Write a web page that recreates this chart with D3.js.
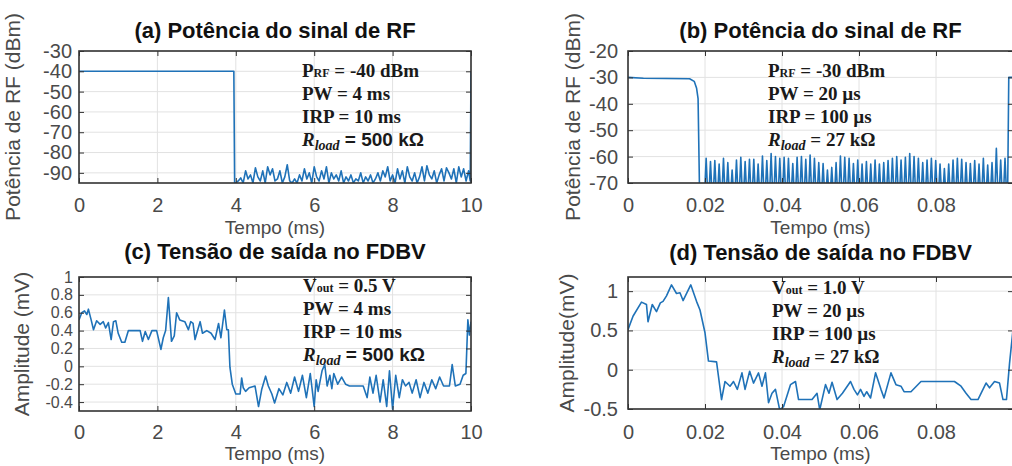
<!DOCTYPE html>
<html>
<head>
<meta charset="utf-8">
<script src="https://cdn.jsdelivr.net/npm/d3@7"></script>
<style>
  body { margin: 0; background: #fff; }
  svg { display: block; }
</style>
</head>
<body>
<svg id="fig" width="1012" height="466"></svg>
<script>
// ---------------- data ----------------
// (a) RF power, PW = 4 ms, IRP = 10 ms  (time in ms, power in dBm)
const rfA_pulse = [[0, -40], [3.95, -40], [3.97, -95]];
const rfA_noiseStart = 4.0;
const rfA_noiseStep = 0.0625;
const rfA_noise = [-95,-94,-92.5,-95,-89,-93,-91,-95,-87.5,-92,
  -94,-89,-95,-87,-91,-88,-94,-93,-89,-95,
  -92,-86,-94,-95,-93,-95,-91,-94,-88,-93,
  -90,-95,-87,-92,-94,-89,-93,-87,-95,-90,
  -93,-91,-94,-89,-95,-92,-94,-91,-95,-93,
  -94,-90,-95,-92,-94,-91,-95,-93,-90,-94,
  -89,-92,-87,-94,-91,-95,-88,-93,-89,-95,
  -87,-92,-94,-90,-95,-92,-87,-94,-86.5,-91,
  -93,-89,-95,-91,-88,-94,-87.5,-90,-93,-88,
  -95,-87,-92,-88,-94,-89];
const rfA_tail = [[9.98, -94], [10, -40]];

// (b) RF power, PW = 20 us, IRP = 100 us
const rfB_pulse = [[0, -30], [0.004, -30.3], [0.010, -30.4], [0.016, -30.5],
  [0.0172, -31.5], [0.0178, -34], [0.0182, -38], [0.0186, -75]];
const rfB_floor = -75;
const rfB_spikeStart = 0.0203;
const rfB_spikeStep = 0.001125;
const rfB_spikeHalfWidth = 0.00042;
const rfB_spikes = [-60.6,-61.9,-61.5,-62.8,-60.6,-62.3,-65.1,-61.3,-60.3,-61.9,
  -61.0,-61.0,-62.8,-59.8,-61.5,-58.8,-60.0,-60.6,-60.3,-60.6,
  -62.6,-60.3,-60.0,-61.0,-59.4,-60.6,-62.3,-62.6,-65.1,-64.1,
  -62.3,-59.8,-60.3,-60.6,-62.6,-61.3,-62.8,-61.9,-62.8,-61.3,
  -62.8,-62.3,-61.5,-60.6,-60.0,-61.3,-60.3,-58.8,-60.0,-60.6,
  -62.3,-61.3,-60.6,-61.5,-62.8,-64.5,-62.8,-61.3,-60.6,-61.0,
  -62.3,-62.6,-61.5,-62.8,-60.6,-63.2,-62.3,-56.9,-61.3,-60.6];
const rfB_tail = [[0.0986, -75], [0.0989, -30], [0.1, -30]];

// (c) detector output, PW = 4 ms (time in ms, amplitude in mV)
const voutC = [[0,0.52],[0.07,0.60],[0.14,0.62],[0.20,0.58],[0.24,0.64],[0.31,0.52],[0.37,0.41],
  [0.45,0.51],[0.54,0.47],[0.62,0.50],[0.68,0.43],[0.75,0.49],[0.82,0.30],[0.88,0.50],[0.94,0.51],
  [1.00,0.37],[1.09,0.27],[1.17,0.27],[1.26,0.40],[1.56,0.40],[1.62,0.28],[1.69,0.39],[1.77,0.30],
  [1.86,0.40],[1.98,0.40],[2.09,0.19],[2.15,0.32],[2.21,0.40],[2.28,0.77],[2.36,0.28],[2.43,0.34],
  [2.49,0.60],[2.57,0.52],[2.70,0.50],[2.79,0.41],[2.85,0.50],[2.91,0.48],[2.96,0.30],[3.03,0.41],
  [3.09,0.50],[3.15,0.37],[3.26,0.40],[3.37,0.37],[3.47,0.30],[3.56,0.48],[3.62,0.32],[3.71,0.63],
  [3.77,0.41],[3.81,0.41],[3.85,-0.01],[3.91,-0.20],[4.00,-0.31],[4.11,-0.31],[4.15,-0.13],
  [4.19,-0.24],[4.25,-0.28],[4.34,-0.24],[4.49,-0.22],[4.58,-0.45],[4.66,-0.26],[4.76,-0.11],
  [4.83,-0.22],[4.92,-0.31],[4.99,-0.41],[5.10,-0.25],[5.20,-0.32],[5.30,-0.18],[5.40,-0.30],
  [5.50,-0.12],[5.60,-0.28],[5.70,-0.10],[5.80,-0.35],[5.90,-0.08],[6.00,-0.45],[6.05,-0.15],
  [6.10,-0.28],[6.20,-0.05],[6.27,0.02],[6.33,-0.22],[6.40,-0.10],[6.45,-0.25],[6.50,-0.08],
  [6.60,-0.20],[6.70,-0.12],[6.80,-0.20],[6.90,-0.22],[7.25,-0.22],[7.35,-0.35],[7.42,-0.12],
  [7.50,-0.30],[7.58,-0.10],[7.68,-0.40],[7.76,-0.15],[7.85,-0.45],[7.92,-0.05],[8.00,-0.48],
  [8.08,-0.10],[8.17,-0.35],[8.25,-0.15],[8.33,-0.22],[8.42,-0.18],[8.50,-0.30],[8.60,-0.15],
  [8.70,-0.35],[8.80,-0.18],[8.90,-0.30],[9.00,-0.15],[9.10,-0.25],[9.20,-0.12],[9.30,-0.22],
  [9.45,-0.22],[9.52,0.02],[9.60,-0.22],[9.72,-0.20],[9.80,-0.10],[9.87,-0.08],[9.92,0.52],
  [9.96,0.35],[10.00,0.50]];

// (d) detector output, PW = 20 us
const voutD = [[0,0.51],[0.0013,0.68],[0.0035,0.86],[0.0048,0.83],[0.0052,0.61],[0.0063,0.83],
  [0.0074,0.74],[0.0084,0.85],[0.0091,0.87],[0.0100,0.94],[0.0113,1.08],[0.0126,0.97],[0.0135,0.98],
  [0.0143,0.88],[0.0163,1.08],[0.0178,0.87],[0.0187,0.76],[0.0200,0.47],[0.0209,0.11],[0.0230,0.10],
  [0.0243,-0.38],[0.0252,-0.15],[0.0265,-0.21],[0.0274,-0.15],[0.0284,-0.25],[0.0296,-0.04],
  [0.0304,-0.25],[0.0316,-0.02],[0.0326,-0.17],[0.0339,-0.04],[0.0348,-0.21],[0.0357,-0.04],
  [0.0365,-0.42],[0.0374,-0.30],[0.0383,-0.25],[0.0394,-0.51],[0.0404,-0.47],[0.0422,-0.19],
  [0.0435,-0.15],[0.0443,-0.38],[0.0465,-0.38],[0.0478,-0.38],[0.0491,-0.30],[0.0498,-0.51],
  [0.0513,-0.19],[0.0522,-0.30],[0.0530,-0.16],[0.0543,-0.38],[0.0557,-0.30],[0.0578,-0.15],
  [0.0587,-0.25],[0.0596,-0.32],[0.0604,-0.25],[0.0613,-0.34],[0.0620,-0.28],[0.0630,-0.36],
  [0.0643,-0.04],[0.0657,-0.25],[0.0665,-0.36],[0.0683,-0.04],[0.0696,-0.19],[0.0709,-0.21],
  [0.0717,-0.28],[0.0735,-0.28],[0.0761,-0.15],[0.0848,-0.15],[0.0865,-0.21],[0.0878,-0.30],
  [0.0891,-0.38],[0.0909,-0.38],[0.0930,-0.17],[0.0939,-0.23],[0.0952,-0.15],[0.0965,-0.17],
  [0.0974,-0.38],[0.0983,-0.38],[0.0991,0.08],[0.1000,0.51]];

// axis ticks
const ticksMs = [0, 2, 4, 6, 8, 10];
const ticksUs = [0, 0.02, 0.04, 0.06, 0.08];
const ticksDbmA = [-90, -80, -70, -60, -50, -40, -30];
const ticksDbmB = [-70, -60, -50, -40, -30, -20];
const ticksMvC = [-0.4, -0.2, 0, 0.2, 0.4, 0.6, 0.8, 1];
const ticksMvD = [-0.5, 0, 0.5, 1];

// ---------------- assemble traces ----------------
const traceA = rfA_pulse
  .concat(rfA_noise.map((v, i) => [rfA_noiseStart + i * rfA_noiseStep, v]))
  .concat(rfA_tail);

const traceB = rfB_pulse.slice();
rfB_spikes.forEach((v, i) => {
  const t = rfB_spikeStart + i * rfB_spikeStep;
  traceB.push([t - rfB_spikeHalfWidth, rfB_floor], [t, v], [t + rfB_spikeHalfWidth, rfB_floor]);
});
rfB_tail.forEach(p => traceB.push(p));

// ---------------- drawing ----------------
const SANS = "'Liberation Sans', Arial, Helvetica, sans-serif";
const SERIF = "'Liberation Serif', 'Times New Roman', serif";
const LINE = "#1f72b8";
const FRAME = "#333";
const GRID = "#e2e2e2";
const TICKTXT = "#4a4a4a";

const svg = d3.select("#fig");
const defs = svg.append("defs");
const fmt = d => String(d);

const panels = [
  {
    id: "a", box: {l: 79, r: 471, t: 51, b: 183},
    xDomain: [0, 10], yDomain: [-95, -30], xTicks: ticksMs, yTicks: ticksDbmA,
    data: traceA, title: "(a) Potência do sinal de RF", titleY: 38,
    yLabel: "Potência de RF (dBm)", yLabelX: 20, xTickPad: 15, xLabelY: 234,
    yPad: 7, yTickFs: 20,
    note: {x: 302, y0: 77, lines: [
      [{t: "P"}, {t: "RF", fs: 12}, {t: " = -40 dBm"}],
      [{t: "PW = 4 ms"}],
      [{t: "IRP = 10 ms"}],
      [{t: "R", it: true}, {t: "load", it: true, fs: 14, dy: 4}, {t: " = 500 kΩ", sans: true, dy: -4}]
    ]}
  },
  {
    id: "b", box: {l: 628, r: 1013, t: 51, b: 183},
    xDomain: [0, 0.1], yDomain: [-70, -20], xTicks: ticksUs, yTicks: ticksDbmB,
    data: traceB, title: "(b) Potência do sinal de RF", titleY: 38,
    yLabel: "Potência de RF (dBm)", yLabelX: 580, xTickPad: 15, xLabelY: 234,
    yPad: 10, yTickFs: 20,
    note: {x: 768, y0: 77, lines: [
      [{t: "P"}, {t: "RF", fs: 12}, {t: " = -30 dBm"}],
      [{t: "PW = 20 µs"}],
      [{t: "IRP = 100 µs"}],
      [{t: "R", it: true}, {t: "load", it: true, fs: 14, dy: 4}, {t: " = 27 kΩ", dy: -4}]
    ]}
  },
  {
    id: "c", box: {l: 79, r: 471, t: 277, b: 411},
    xDomain: [0, 10], yDomain: [-0.5, 1], xTicks: ticksMs, yTicks: ticksMvC,
    data: voutC, title: "(c) Tensão de saída no FDBV", titleY: 259,
    yLabel: "Amplitude (mV)", yLabelX: 29, xTickPad: 14, xLabelY: 460,
    yPad: 6, yTickFs: 16,
    note: {x: 303, y0: 292, lines: [
      [{t: "V"}, {t: "out", fs: 12}, {t: " = 0.5 V"}],
      [{t: "PW = 4 ms"}],
      [{t: "IRP = 10 ms"}],
      [{t: "R", it: true}, {t: "load", it: true, fs: 14, dy: 4}, {t: " = 500 kΩ", sans: true, dy: -4}]
    ]}
  },
  {
    id: "d", box: {l: 628, r: 1013, t: 277, b: 409},
    xDomain: [0, 0.1], yDomain: [-0.5, 1.18], xTicks: ticksUs, yTicks: ticksMvD,
    data: voutD, title: "(d) Tensão de saída no FDBV", titleY: 260,
    yLabel: "Amplitude(mV)", yLabelX: 574, xTickPad: 16, xLabelY: 460,
    yPad: 10, yTickFs: 20,
    note: {x: 772, y0: 294, lines: [
      [{t: "V"}, {t: "out", fs: 12}, {t: " = 1.0 V"}],
      [{t: "PW = 20 µs"}],
      [{t: "IRP = 100 µs"}],
      [{t: "R", it: true}, {t: "load", it: true, fs: 14, dy: 4}, {t: " = 27 kΩ", dy: -4}]
    ]}
  }
];

function drawPanel(p) {
  const {l, r, t, b} = p.box;
  const g = svg.append("g").attr("class", "panel-" + p.id);
  const x = d3.scaleLinear().domain(p.xDomain).range([l, r]);
  const y = d3.scaleLinear().domain(p.yDomain).range([b, t]);

  // background grid
  g.append("g").selectAll("line").data(p.xTicks).join("line")
    .attr("x1", d => x(d)).attr("x2", d => x(d)).attr("y1", t).attr("y2", b)
    .attr("stroke", GRID).attr("stroke-width", 1);
  g.append("g").selectAll("line").data(p.yTicks).join("line")
    .attr("x1", l).attr("x2", r).attr("y1", d => y(d)).attr("y2", d => y(d))
    .attr("stroke", GRID).attr("stroke-width", 1);

  // signal trace, clipped to the axes box
  defs.append("clipPath").attr("id", "clip-" + p.id)
    .append("rect").attr("x", l).attr("y", t).attr("width", r - l).attr("height", b - t);
  g.append("path").datum(p.data)
    .attr("clip-path", `url(#clip-${p.id})`)
    .attr("fill", "none").attr("stroke", LINE).attr("stroke-width", 1.6)
    .attr("stroke-linejoin", "round")
    .attr("d", d3.line().x(d => x(d[0])).y(d => y(d[1])));

  // axes (ticks point inward)
  const styleAxis = fs => sel => {
    sel.select(".domain").remove();
    sel.selectAll(".tick line").attr("stroke", FRAME);
    sel.selectAll(".tick text").attr("fill", TICKTXT)
      .attr("font-family", SANS).attr("font-size", fs);
  };
  g.append("g").attr("transform", `translate(0,${b})`)
    .call(d3.axisBottom(x).tickValues(p.xTicks).tickFormat(fmt)
      .tickSizeInner(-5).tickSizeOuter(0).tickPadding(p.xTickPad))
    .call(styleAxis(20));
  g.append("g").attr("transform", `translate(0,${t})`)
    .call(d3.axisTop(x).tickValues(p.xTicks).tickFormat("")
      .tickSizeInner(-5).tickSizeOuter(0))
    .call(styleAxis(20));
  g.append("g").attr("transform", `translate(${l},0)`)
    .call(d3.axisLeft(y).tickValues(p.yTicks).tickFormat(fmt)
      .tickSizeInner(-5).tickSizeOuter(0).tickPadding(p.yPad))
    .call(styleAxis(p.yTickFs));
  g.append("g").attr("transform", `translate(${r},0)`)
    .call(d3.axisRight(y).tickValues(p.yTicks).tickFormat("")
      .tickSizeInner(-5).tickSizeOuter(0))
    .call(styleAxis(20));

  // axes box
  g.append("rect").attr("x", l).attr("y", t).attr("width", r - l).attr("height", b - t)
    .attr("fill", "none").attr("stroke", FRAME).attr("stroke-width", 1.6);

  // titles and labels
  g.append("text").attr("x", (l + r) / 2).attr("y", p.titleY)
    .attr("text-anchor", "middle").attr("font-family", SANS)
    .attr("font-weight", "bold").attr("font-size", 22).attr("fill", "#111")
    .text(p.title);
  g.append("text").attr("x", (l + r) / 2).attr("y", p.xLabelY)
    .attr("text-anchor", "middle").attr("font-family", SANS)
    .attr("font-size", 19).attr("fill", TICKTXT).text("Tempo (ms)");
  g.append("text")
    .attr("transform", `translate(${p.yLabelX},${(t + b) / 2}) rotate(-90)`)
    .attr("text-anchor", "middle").attr("font-family", SANS)
    .attr("font-size", 21).attr("fill", TICKTXT).text(p.yLabel);

  // parameter annotation
  p.note.lines.forEach((segs, i) => {
    const txt = g.append("text").attr("x", p.note.x).attr("y", p.note.y0 + i * 23)
      .attr("font-family", SERIF).attr("font-weight", "bold")
      .attr("font-size", 19).attr("fill", "#1a1a1a");
    segs.forEach(s => {
      const ts = txt.append("tspan").text(s.t);
      if (s.fs) ts.attr("font-size", s.fs);
      if (s.it) ts.attr("font-style", "italic");
      if (s.dy) ts.attr("dy", s.dy);
      if (s.sans) ts.attr("font-family", SANS);
    });
  });
}

panels.forEach(drawPanel);
</script>
</body>
</html>
